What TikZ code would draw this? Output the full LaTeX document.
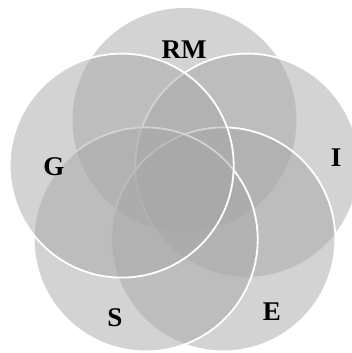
\documentclass[tikz,border=0pt]{standalone}
\usepackage{fontspec}
\setmainfont{Liberation Serif}
\begin{document}
\begin{tikzpicture}[x=1pt,y=-1pt,
  venn/.style={circle, minimum size=224pt, inner sep=0pt, outer sep=0pt,
    fill=cgray, fill opacity=0.5},
  wline/.style={draw=white, line width=1.8pt},
  lbl/.style={inner sep=0pt, font=\fontsize{27}{27}\selectfont\bfseries, text=black}]
\definecolor{cgray}{RGB}{167,167,167}
\useasboundingbox (0,0) rectangle (352,353);
\clip (0,0) rectangle (352,353);
\node[venn] (rm) at (184.5,120) {};
\node[venn, wline] (i) at (247.3,165.6) {};
\node[venn, wline] (e) at (223.3,239.4) {};
\node[venn, wline] (s) at (145.7,239.4) {};
\node[venn, wline] (g) at (121.7,165.6) {};
\node[lbl] (lrm) at (184,49.5) {RM};
\node[lbl] (lg) at (54,167) {G};
\node[lbl] (li) at (336,158) {I};
\node[lbl] (ls) at (115,318) {S};
\node[lbl] (le) at (272,312) {E};
\end{tikzpicture}
\end{document}
